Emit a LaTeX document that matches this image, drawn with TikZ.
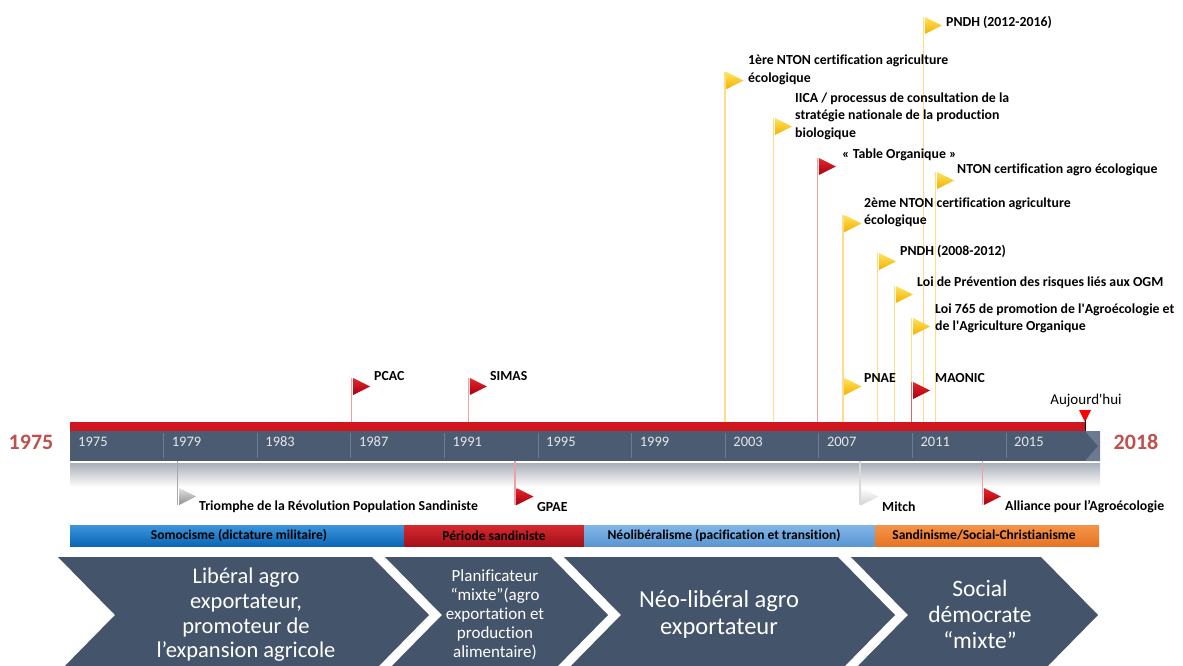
\documentclass[tikz,border=0pt]{standalone}
\usepackage{fontspec}
\setmainfont{Carlito}[Ligatures={NoCommon}]

\definecolor{slate}{HTML}{44546A}
\definecolor{barslate}{HTML}{4B5B72}
\definecolor{barend}{HTML}{6C7A90}
\definecolor{tickline}{HTML}{6E7C92}
\definecolor{yeartxt}{HTML}{E4E7EC}
\definecolor{bigred}{HTML}{C0504D}
\definecolor{barred}{HTML}{D0161F}
\definecolor{todayred}{HTML}{FF0000}
\definecolor{refl}{HTML}{A9AEB8}
% flag colours: lt = light part, dk = dark part, pl = pole
\definecolor{ltred}{HTML}{E8262C}
\definecolor{dkred}{HTML}{A5000F}
\definecolor{plred}{HTML}{E9A2A6}
\definecolor{ltmao}{HTML}{E8262C}
\definecolor{dkmao}{HTML}{A5000F}
\definecolor{plmao}{HTML}{D46A6A}
\definecolor{ltyel}{HTML}{FFE35C}
\definecolor{dkyel}{HTML}{F2B100}
\definecolor{plyel}{HTML}{FFDD88}
\definecolor{ltgry}{HTML}{E2E2E2}
\definecolor{dkgry}{HTML}{8E8E8E}
\definecolor{plgry}{HTML}{A8A8A8}
\definecolor{ltwht}{HTML}{FFFFFF}
\definecolor{dkwht}{HTML}{D2D2D2}
\definecolor{plwht}{HTML}{DADADA}
% period colours
\definecolor{ltsom}{HTML}{3E95DD}
\definecolor{dksom}{HTML}{0A66B4}
\definecolor{ltsan}{HTML}{D42A2E}
\definecolor{dksan}{HTML}{A5101A}
\definecolor{ltneo}{HTML}{82B6E8}
\definecolor{dkneo}{HTML}{5A96D2}
\definecolor{ltsoc}{HTML}{F59448}
\definecolor{dksoc}{HTML}{E67424}

\tikzset{
  lbl/.style={font=\bfseries\fontsize{13.8}{17.5}\selectfont, anchor=west, align=left, inner sep=0pt},
  yearlbl/.style={font=\fontsize{14.5}{16}\selectfont, text=yeartxt, anchor=west, inner sep=0pt},
  bigyear/.style={font=\bfseries\fontsize{22}{24}\selectfont, text=bigred, inner sep=0pt},
  periodlbl/.style={font=\bfseries\fontsize{13.5}{15}\selectfont, inner sep=0pt},
  chevtxt/.style={text=white, align=center, inner sep=0pt},
}

\begin{document}
\begin{tikzpicture}[x=1pt,y=-1pt]
    \useasboundingbox (0,0) rectangle (1183,665);
    \clip (0,0) rectangle (1183,665);
    \fill[white] (0,0) rectangle (1183,665);

    \coordinate (bartop) at (0,422);
    \coordinate (barbot) at (0,461);

    \fill[barred] (70,422) rectangle (1085,431);
    \fill[barslate] (70,431) rectangle (1100,461);
    \fill[barend] (1085,431) -- (1100,431) -- (1100,461) -- (1085,461) -- (1098,446) -- cycle;
    \shade[top color=refl, bottom color=white] (70,463) rectangle (1100,487);
    \foreach \i in {1,...,10}
        \draw[tickline, line width=0.8pt] (70+93.6*\i,433) -- (70+93.6*\i,458);
    \foreach \i in {0,...,10} {
        \pgfmathtruncatemacro\yr{1975+4*\i}
        \node[yearlbl] (y\yr) at (78+93.6*\i,442) {\yr};
    }
    \node[bigyear] (start) at (31,442) {1975};
    \node[bigyear] (end) at (1136,442) {2018};

    \fill[todayred] (1079,410) -- (1091,410) -- (1085,422) -- cycle;
    \draw[black, line width=0.8pt] (1085,420) -- (1085,431);
    \node[font=\fontsize{15}{17}\selectfont, inner sep=0pt] (today) at (1086,401) {Aujourd\textquotesingle hui};

    \foreach \n/\px/\py/\k in {pcac/351.7/378/red, simas/468.3/378/red, nton1/725/72/yel,
            iica/773.3/118/yel, table/817.3/158/red, pndh12/923.3/17/yel, ntonagro/935.7/172/yel,
            nton2/843/215/yel, pndh08/877.3/253/yel, ogm/894.3/286/yel, loi765/911.7/318/yel,
            pnae/843/378/yel, maonic/911.7/382/mao} {
        \coordinate (\n) at (\px,\py);
        \draw[draw=pl\k, line width=1.4pt] (\n) -- (\n |- bartop);
        \shade[top color=lt\k, bottom color=dk\k] (\n) ++(1.5,0) -- ++(0,17) -- ++(17,-8.5) -- cycle;
    }
    \foreach \n/\px/\k in {triomphe/177.7/gry, gpae/515/red, mitch/860/wht, alliance/982.3/red} {
        \coordinate (\n) at (\px,505);
        \draw[draw=pl\k, line width=1.4pt] (\n |- barbot) -- (\n);
        \shade[top color=lt\k, bottom color=dk\k] (\n) ++(1.5,0) -- ++(0,-17) -- ++(17,8.5) -- cycle;
    }

    \node[lbl] (pcac-l) at (374,376) {PCAC};
    \node[lbl] (simas-l) at (490,376) {SIMAS};
    \node[lbl] (nton1-l) at (748,70) {1ère NTON certification agriculture\\écologique};
    \node[lbl] (pndh12-l) at (946,22) {PNDH (2012-2016)};
    \node[lbl] (iica-l) at (795,116) {IICA / processus de consultation de la\\stratégie nationale de la production\\biologique};
    \node[lbl] (table-l) at (842,155) {« Table Organique »};
    \node[lbl] (ntonagro-l) at (957,170) {NTON certification agro écologique};
    \node[lbl] (nton2-l) at (864,212.5) {2ème NTON certification agriculture\\écologique};
    \node[lbl] (pndh08-l) at (900,251) {PNDH (2008-2012)};
    \node[lbl] (ogm-l) at (917,283) {Loi de Prévention des risques liés aux OGM};
    \node[lbl] (loi765-l) at (935,318.5) {Loi 765 de promotion de l\textquotesingle Agroécologie et\\de l\textquotesingle Agriculture Organique};
    \node[lbl] (pnae-l) at (864,378) {PNAE};
    \node[lbl] (maonic-l) at (935,378) {MAONIC};
    \node[lbl] (triomphe-l) at (199,507) {Triomphe de la Révolution Population Sandiniste};
    \node[lbl] (gpae-l) at (537,507) {GPAE};
    \node[lbl] (mitch-l) at (882,507) {Mitch};
    \node[lbl] (alliance-l) at (1005,507) {Alliance pour l’Agroécologie};

    \foreach \n/\a/\b in {som/70/404, san/404/584, neo/584/875, soc/875/1099}
        \shade[top color=lt\n, bottom color=dk\n] (\a,525) rectangle (\b,546);
    \node[periodlbl] (som-l) at (239,535.5) {Somocisme (dictature militaire)};
    \node[periodlbl] (san-l) at (494,535.5) {Période sandiniste};
    \node[periodlbl] (neo-l) at (724,535.5) {Néolibéralisme (pacification et transition)};
    \node[periodlbl] (soc-l) at (984,535.5) {Sandinisme/Social-Christianisme};

    \foreach \n/\l/\r in {c1/58/372, c2/385/551, c3/564/838, c4/851/1041}
        \fill[slate] (\l,557) -- (\r,557) -- (\r+57,615) -- (\r,673) -- (\l,673) -- (\l+57,615) -- cycle;
    \node[chevtxt, font=\fontsize{22.5}{24.6}\selectfont] (c1-t) at (246,615)
        {Libéral agro\\exportateur,\\promoteur de\\l’expansion agricole};
    \node[chevtxt, font=\fontsize{17}{19}\selectfont] (c2-t) at (495,615)
        {Planificateur\\“mixte”(agro\\exportation et\\production\\alimentaire)};
    \node[chevtxt, font=\fontsize{24.5}{27}\selectfont] (c3-t) at (719,614)
        {Néo-libéral agro\\exportateur};
    \node[chevtxt, font=\fontsize{23.5}{26}\selectfont] (c4-t) at (980,614)
        {Social\\démocrate\\“mixte”};
\end{tikzpicture}
\end{document}
